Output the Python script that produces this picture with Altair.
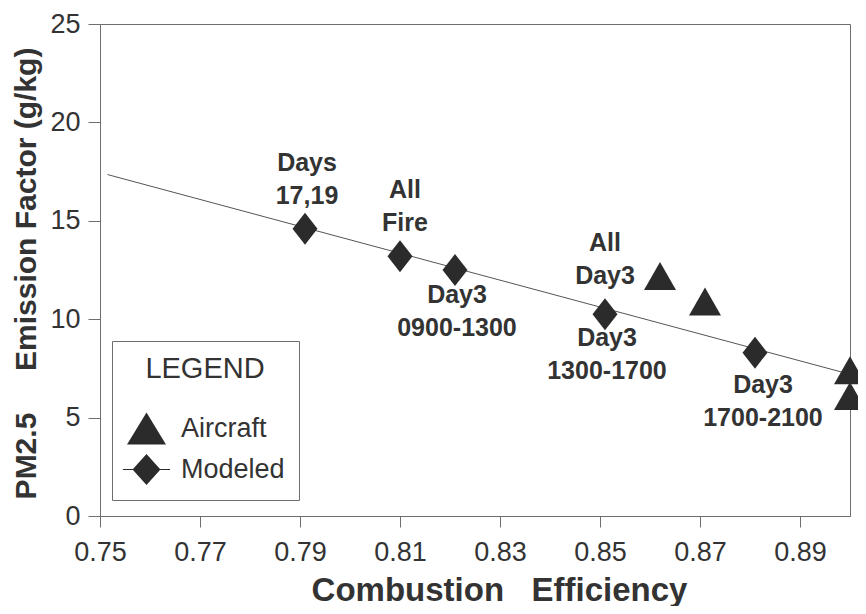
import altair as alt
import pandas as pd

# ---- data ----
air_x = [0.862, 0.871, 0.900, 0.900]
air_y = [12.2, 10.9, 7.4, 6.1]

mod_x = [0.791, 0.810, 0.821, 0.851, 0.881]
mod_y = [14.6, 13.2, 12.5, 10.25, 8.3]

fit_x = [0.7515, 0.900]
fit_y = [17.35, 7.2]

ann_text = ["Days\n17,19", "All\nFire", "Day3\n0900-1300", "All\nDay3",
            "Day3\n1300-1700", "Day3\n1700-2100"]
ann_x = [0.7914, 0.811, 0.8214, 0.851, 0.8514, 0.8826]
ann_y = [17.94, 16.57, 11.23, 13.87, 9.04, 6.66]

x_ticks = [0.75, 0.77, 0.79, 0.81, 0.83, 0.85, 0.87, 0.89]
y_ticks = [0, 5, 10, 15, 20, 25]
categories = ["Aircraft", "Modeled"]

FONT = "Liberation Sans"
INK = "#2b2b2b"
TXT = "#333333"
GRAY = "#6e6e6e"
NB = "\u00a0"

pts = pd.DataFrame({
    "x": air_x + mod_x,
    "y": air_y + mod_y,
    "type": ["Aircraft"] * len(air_x) + ["Modeled"] * len(mod_x),
})
fit = pd.DataFrame({"x": fit_x, "y": fit_y})
ann = pd.DataFrame({"x": ann_x, "y": ann_y, "t": ann_text})

xs = alt.Scale(domain=[0.75, 0.90], nice=False, zero=False)
ys = alt.Scale(domain=[0, 25], nice=False)

x_axis = alt.Axis(values=x_ticks, format=".2f", grid=False, tickSize=11,
                  labelPadding=12, labelFontSize=27, labelFont=FONT,
                  labelFlush=False, labelOverlap=False,
                  labelColor=TXT, domainColor=GRAY, tickColor=GRAY,
                  title="Combustion" + NB * 3 + "Efficiency", titleFont=FONT,
                  titleFontSize=33, titleFontWeight="bold", titleColor=TXT,
                  titleX=399, titleY=84, titleBaseline="alphabetic",
                  titleAlign="center")
y_axis = alt.Axis(values=y_ticks, grid=False, tickSize=12, labelPadding=8,
                  labelFontSize=27, labelFont=FONT, labelColor=TXT,
                  labelFlush=False, labelOverlap=False,
                  domainColor=GRAY, tickColor=GRAY,
                  title="PM2.5" + NB * 5 + "Emission Factor (g/kg)",
                  titleFont=FONT, titleFontSize=30, titleFontWeight="bold",
                  titleColor=TXT, titleX=-65, titleY=249, titleAngle=-90,
                  titleBaseline="alphabetic", titleAlign="center")

line = alt.Chart(fit).mark_line(color="#555555", strokeWidth=1).encode(
    x=alt.X("x:Q", scale=xs, axis=x_axis),
    y=alt.Y("y:Q", scale=ys, axis=y_axis),
)

chart_tri = "M0,-0.875L1,0.875L-1,0.875Z"
chart_dia = "M0,-1L0.78,0L0,1L-0.78,0Z"
points = alt.Chart(pts).mark_point(filled=True, color=INK, opacity=1,
                                   size=1024, strokeWidth=0).encode(
    x=alt.X("x:Q", scale=xs),
    y=alt.Y("y:Q", scale=ys),
    shape=alt.Shape("type:N", scale=alt.Scale(domain=categories,
                                              range=[chart_tri, chart_dia]),
                    legend=None),
)

# legend symbols: the modeled diamond carries a thin bar for the fit line
leg_tri = "M0,-0.78L0.95,0.78L-0.95,0.78Z"
leg_dia = ("M-0.68,0L0,-0.76L0.68,0L0,0.76Z "
           "M-1.15,-0.03L1.15,-0.03L1.15,0.03L-1.15,0.03Z")
legend_layer = alt.Chart(pts).mark_point(filled=True, color=INK, opacity=0,
                                         size=10).encode(
    x=alt.X("x:Q", scale=xs),
    y=alt.Y("y:Q", scale=ys),
    shape=alt.Shape("type:N",
                    scale=alt.Scale(domain=categories, range=[leg_tri, leg_dia]),
                    legend=alt.Legend(
                        title=NB * 3 + "LEGEND" + NB * 3, orient="none",
                        legendX=12, legendY=317,
                        padding=14, strokeColor=GRAY, fillColor="white",
                        titleFont=FONT, titleFontSize=29,
                        titleFontWeight="normal", titleColor=TXT,
                        titleAnchor="middle", titleAlign="center",
                        titlePadding=24, labelFont=FONT, labelFontSize=27,
                        labelColor=TXT, labelOffset=14, symbolSize=1681,
                        symbolFillColor=INK, symbolStrokeWidth=0,
                        symbolOpacity=1, rowPadding=4)),
)

labels = alt.Chart(ann).mark_text(font=FONT, fontSize=25, fontWeight="bold",
                                  color=TXT, align="center", baseline="middle",
                                  lineBreak="\n", lineHeight=33).encode(
    x=alt.X("x:Q", scale=xs),
    y=alt.Y("y:Q", scale=ys),
    text="t:N",
)

chart = alt.layer(line, legend_layer, points, labels).resolve_scale(
    shape="independent"
).properties(
    width=750, height=492,
    autosize=alt.AutoSizeParams(type="none"),
    padding={"left": 92, "top": 16, "right": 8, "bottom": 90},
).configure(background="white").configure_view(stroke=GRAY, strokeWidth=1)

chart.save("out.html", embed_options={"renderer": "svg", "actions": False})
